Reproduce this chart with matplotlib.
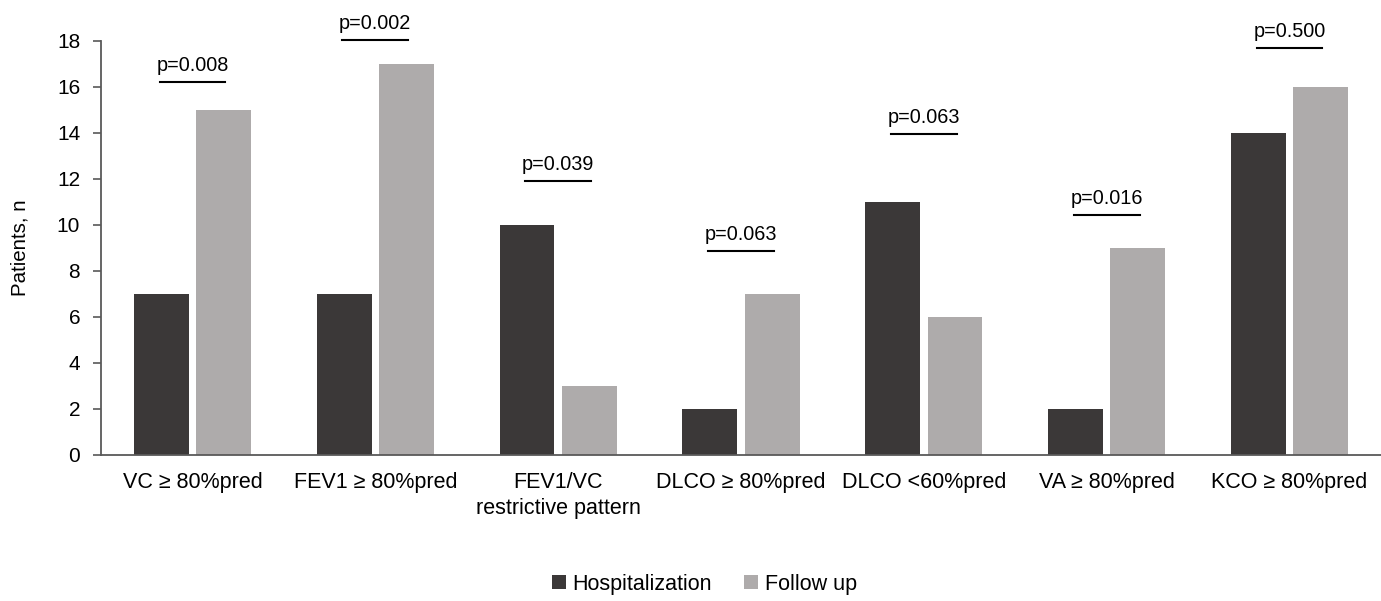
import numpy as np
import matplotlib.pyplot as plt

plt.rcParams['font.family'] = ['Liberation Sans', 'DejaVu Sans']

categories = ['VC \u2265 80%pred', 'FEV1 \u2265 80%pred', 'FEV1/VC\nrestrictive pattern',
              'DLCO \u2265 80%pred', 'DLCO <60%pred', 'VA \u2265 80%pred', 'KCO \u2265 80%pred']
hospitalization = [7, 7, 10, 2, 11, 2, 14]
follow_up = [15, 17, 3, 7, 6, 9, 16]
p_values = ['p=0.008', 'p=0.002', 'p=0.039', 'p=0.063', 'p=0.063', 'p=0.016', 'p=0.500']
p_line_y = [16.2, 18.05, 11.9, 8.85, 13.95, 10.45, 17.7]

dark = '#3b3838'
light = '#aeabab'

fig = plt.figure(figsize=(13.81, 6.01), dpi=100)
ax = fig.add_axes([101 / 1381, 0.243, 1280 / 1381, 0.689])

x = np.arange(len(categories))
w = 0.30
off = 0.17
ax.bar(x - off, hospitalization, w, color=dark, label='Hospitalization')
ax.bar(x + off, follow_up, w, color=light, label='Follow up')

for xi, p, ly in zip(x, p_values, p_line_y):
    ax.plot([xi - 0.18, xi + 0.18], [ly, ly], color='black', lw=1.5, clip_on=False)
    ax.text(xi, ly + 0.3, p, ha='center', va='bottom', fontsize=14.3)

ax.set_xlim(-0.5, len(categories) - 0.5)
ax.set_ylim(0, 18)
ax.set_yticks(range(0, 19, 2))
ax.set_xticks(x)
ax.set_xticklabels(categories, fontsize=15.5, linespacing=1.35)
ax.tick_params(axis='x', length=0, pad=12)
ax.tick_params(axis='y', labelsize=15, length=6, color='#595959', width=1.2, pad=9)
ax.set_ylabel('Patients, n', fontsize=14.8, labelpad=20)

for s in ['top', 'right']:
    ax.spines[s].set_visible(False)
for s in ['left', 'bottom']:
    ax.spines[s].set_color('#595959')
    ax.spines[s].set_linewidth(1.3)

fig.legend(loc='lower center', bbox_to_anchor=(0.51, -0.022), ncol=2, frameon=False,
           fontsize=15.5, handlelength=0.65, handleheight=0.65, handletextpad=0.3,
           columnspacing=1.5)

fig.savefig('out.png', dpi=100)
